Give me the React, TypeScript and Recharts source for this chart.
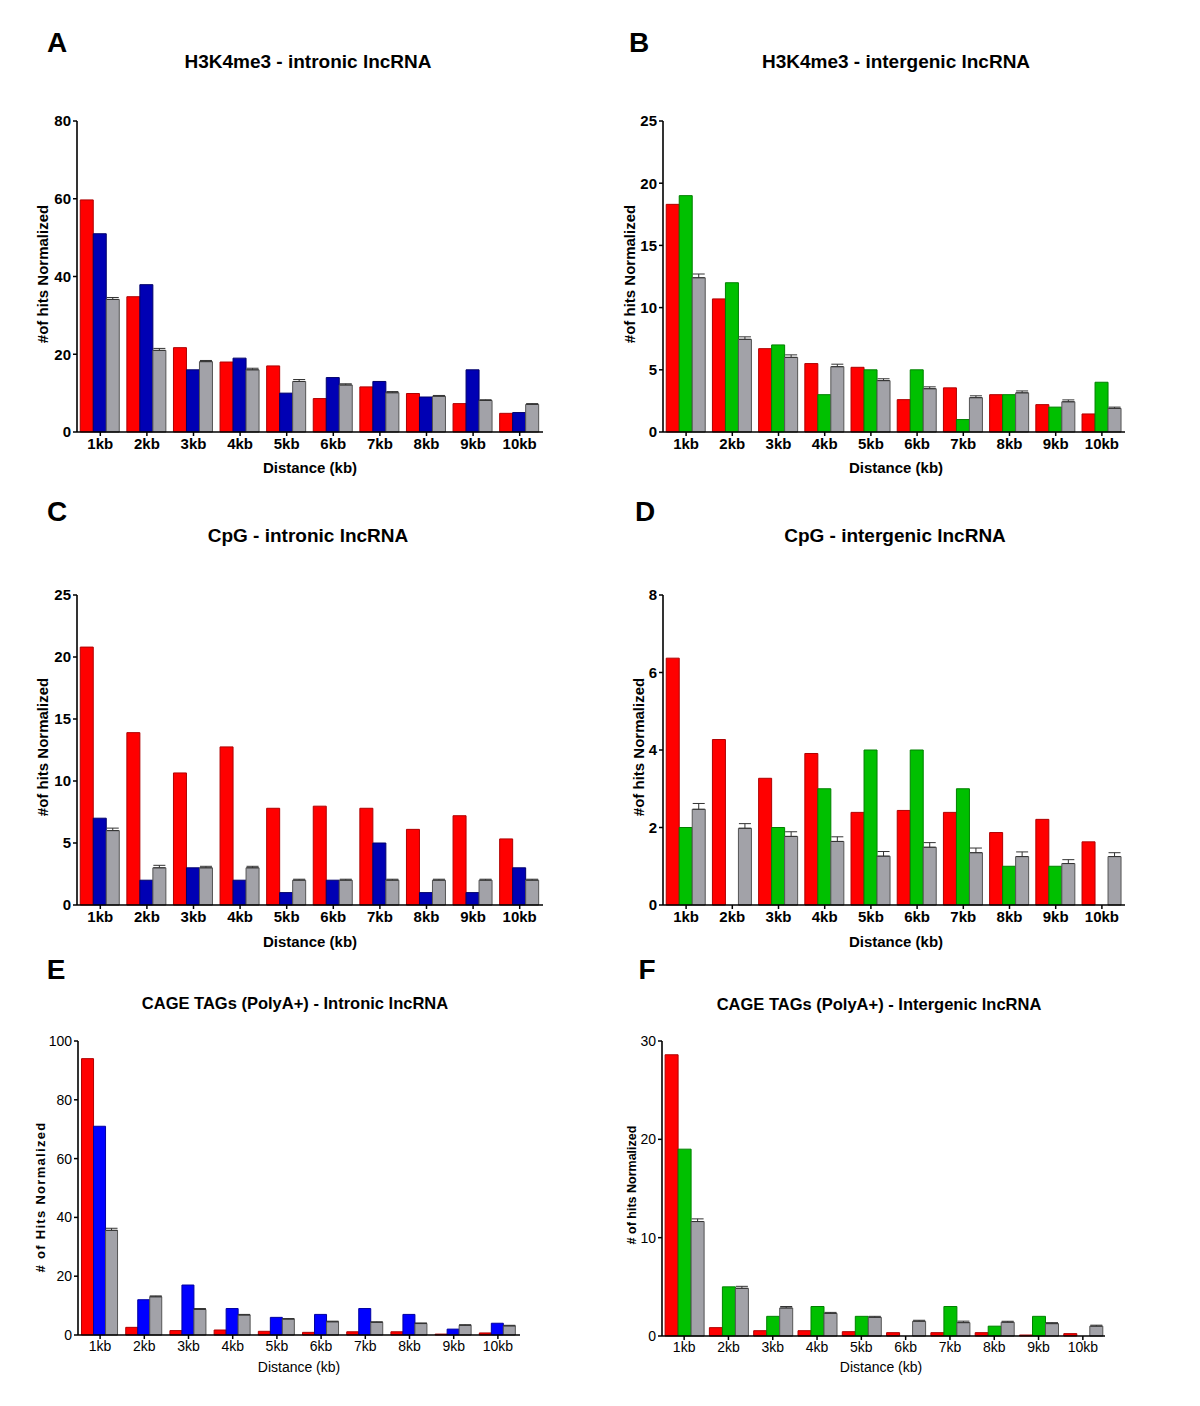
import React from 'react';
import { BarChart, Bar, XAxis, YAxis, ErrorBar } from 'recharts';

const FONT = '"Liberation Sans", Arial, Helvetica, sans-serif';

const CATEGORIES = ['1kb', '2kb', '3kb', '4kb', '5kb', '6kb', '7kb', '8kb', '9kb', '10kb'];

// A: H3K4me3 - intronic lncRNA
const redA = [59.7, 34.8, 21.7, 18.0, 17.0, 8.6, 11.6, 9.9, 7.3, 4.8];
const blueA = [51.0, 37.9, 16.0, 19.0, 10.0, 14.0, 13.0, 9.0, 16.0, 5.0];
const grayA = [34.1, 21.0, 18.1, 16.0, 13.0, 12.1, 10.1, 9.2, 8.1, 7.1];
const errA = [0.5, 0.5, 0.3, 0.4, 0.5, 0.3, 0.3, 0.2, 0.2, 0.2];
const ticksA = [0, 20, 40, 60, 80];

// B: H3K4me3 - intergenic lncRNA
const redB = [18.3, 10.7, 6.7, 5.5, 5.2, 2.6, 3.55, 3.0, 2.2, 1.45];
const greenB = [19.0, 12.0, 7.0, 3.0, 5.0, 5.0, 1.0, 3.0, 2.0, 4.0];
const grayB = [12.4, 7.45, 6.0, 5.25, 4.13, 3.48, 2.76, 3.15, 2.43, 1.9];
const errB = [0.3, 0.2, 0.2, 0.2, 0.15, 0.15, 0.15, 0.15, 0.15, 0.1];
const ticksB = [0, 5, 10, 15, 20, 25];

// C: CpG - intronic lncRNA
const redC = [20.8, 13.9, 10.65, 12.75, 7.8, 7.97, 7.8, 6.1, 7.2, 5.33];
const blueC = [7.0, 2.0, 3.0, 2.0, 1.0, 2.0, 5.0, 1.0, 1.0, 3.0];
const grayC = [6.0, 3.0, 3.0, 3.0, 2.0, 2.0, 2.0, 2.0, 2.0, 2.0];
const errC = [0.2, 0.2, 0.12, 0.12, 0.08, 0.08, 0.08, 0.08, 0.08, 0.08];
const ticksC = [0, 5, 10, 15, 20, 25];

// D: CpG - intergenic lncRNA
const redD = [6.37, 4.27, 3.27, 3.91, 2.39, 2.44, 2.39, 1.87, 2.21, 1.63];
const greenD = [2.0, 0, 2.0, 3.0, 4.0, 4.0, 3.0, 1.0, 1.0, 0];
const grayD = [2.47, 1.98, 1.77, 1.64, 1.26, 1.49, 1.35, 1.25, 1.07, 1.25];
const errD = [0.15, 0.12, 0.12, 0.12, 0.12, 0.12, 0.12, 0.12, 0.1, 0.1];
const ticksD = [0, 2, 4, 6, 8];

// E: CAGE TAGs (PolyA+) - Intronic lncRNA
const redE = [94.0, 2.6, 1.5, 1.7, 1.25, 0.9, 1.1, 1.1, 0.3, 0.7];
const blueE = [71.0, 12.0, 17.0, 9.0, 6.0, 7.0, 9.0, 7.0, 2.0, 4.0];
const grayE = [35.6, 13.0, 8.7, 6.8, 5.4, 4.5, 4.3, 3.9, 3.3, 3.1];
const errE = [0.7, 0.3, 0.3, 0.2, 0.2, 0.2, 0.2, 0.2, 0.2, 0.2];
const ticksE = [0, 20, 40, 60, 80, 100];

// F: CAGE TAGs (PolyA+) - Intergenic lncRNA
const redF = [28.6, 0.85, 0.54, 0.54, 0.44, 0.34, 0.34, 0.34, 0.1, 0.24];
const greenF = [19.0, 5.0, 2.0, 3.0, 2.0, 0, 3.0, 1.0, 2.0, 0];
const grayF = [11.64, 4.85, 2.85, 2.3, 1.9, 1.5, 1.36, 1.4, 1.26, 1.0];
const errF = [0.27, 0.2, 0.15, 0.1, 0.1, 0.1, 0.15, 0.1, 0.1, 0.1];
const ticksF = [0, 10, 20, 30];

const RED = { fill: '#FF0000', stroke: '#B00000' };
const NAVY = { fill: '#0000B4', stroke: '#00006A' };
const BLUE = { fill: '#0000FF', stroke: '#0000A0' };
const GREEN = { fill: '#00C000', stroke: '#008000' };
const GRAY = { fill: '#A2A2A8', stroke: '#555555' };

type PanelProps = {
  letter: string;
  letterPos: [number, number];
  title: string;
  titlePos: [number, number];
  titleSize: number;
  plot: [number, number, number, number];
  s1: number[];
  s2: number[];
  s3: number[];
  err: number[];
  c1: { fill: string; stroke: string };
  c2: { fill: string; stroke: string };
  c3: { fill: string; stroke: string };
  yMax: number;
  yTicks: number[];
  yLabel: string;
  yLabelPos: [number, number];
  yLabelStyle: any;
  xLabelPos: [number, number];
  xLabelStyle: any;
  tickStyle: any;
  gap: string;
};

function Panel(p: PanelProps) {
  const left = p.plot[0] - 70;
  const top = p.plot[1] - 15;
  const width = p.plot[2] - p.plot[0] + 85;
  const height = p.plot[3] - p.plot[1] + 70;
  const data = CATEGORIES.map((c, i) => ({
    cat: c,
    a: p.s1[i],
    b: p.s2[i],
    g: p.s3[i],
    err: [0, p.err[i]],
  }));
  const yl = [p.yLabelPos[0] - left, p.yLabelPos[1] - top];
  const xl = [p.xLabelPos[0] - left, p.xLabelPos[1] - top];
  const yLabelFn = () => (
    <text
      x={yl[0]}
      y={yl[1]}
      transform={`rotate(-90 ${yl[0]} ${yl[1]})`}
      textAnchor="middle"
      dominantBaseline="central"
      fill="#000"
      fontFamily={FONT}
      {...p.yLabelStyle}
    >
      {p.yLabel}
    </text>
  );
  const xLabelFn = () => (
    <text
      x={xl[0]}
      y={xl[1]}
      textAnchor="middle"
      dominantBaseline="central"
      fill="#000"
      fontFamily={FONT}
      {...p.xLabelStyle}
    >
      Distance (kb)
    </text>
  );
  const tick = { fill: '#000', fontFamily: FONT, ...p.tickStyle };
  return (
    <>
      <div
        style={{
          position: 'absolute',
          left: p.letterPos[0],
          top: p.letterPos[1],
          transform: 'translate(-50%, -50%)',
          fontFamily: FONT,
          fontWeight: 'bold',
          fontSize: 28,
          lineHeight: 1,
          color: '#000',
        }}
      >
        {p.letter}
      </div>
      <div
        style={{
          position: 'absolute',
          left: p.titlePos[0],
          top: p.titlePos[1],
          transform: 'translate(-50%, -50%)',
          fontFamily: FONT,
          fontWeight: 'bold',
          fontSize: p.titleSize,
          lineHeight: 1,
          whiteSpace: 'nowrap',
          color: '#000',
        }}
      >
        {p.title}
      </div>
      <div style={{ position: 'absolute', left, top }}>
        <BarChart
          width={width}
          height={height}
          data={data}
          margin={{ top: 15, right: 15, bottom: 25, left: 30 }}
          barGap={0}
          barCategoryGap={p.gap}
        >
          <XAxis
            dataKey="cat"
            height={30}
            interval={0}
            tickSize={4}
            tick={tick}
            axisLine={{ stroke: '#000', strokeWidth: 1.6 }}
            tickLine={{ stroke: '#000', strokeWidth: 1.5 }}
            label={xLabelFn}
          />
          <YAxis
            width={40}
            type="number"
            domain={[0, p.yMax]}
            ticks={p.yTicks}
            interval={0}
            tickSize={4}
            tick={tick}
            axisLine={{ stroke: '#000', strokeWidth: 1.6 }}
            tickLine={{ stroke: '#000', strokeWidth: 1.5 }}
            label={yLabelFn}
          />
          <Bar dataKey="a" fill={p.c1.fill} stroke={p.c1.stroke} strokeWidth={1} isAnimationActive={false} />
          <Bar dataKey="b" fill={p.c2.fill} stroke={p.c2.stroke} strokeWidth={1} isAnimationActive={false} />
          <Bar dataKey="g" fill={p.c3.fill} stroke={p.c3.stroke} strokeWidth={1} isAnimationActive={false}>
            <ErrorBar dataKey="err" direction="y" width={6} stroke="#333" strokeWidth={1} />
          </Bar>
        </BarChart>
      </div>
    </>
  );
}

const bigTick = { fontSize: 15, fontWeight: 'bold' };
const bigLabel = { fontSize: 15, fontWeight: 'bold' };
const smallTick = { fontSize: 14, fontWeight: 'normal' };
const smallXLabel = { fontSize: 14, fontWeight: 'normal' };

export default function App() {
  return (
    <div
      style={{
        position: 'absolute',
        left: 0,
        top: 0,
        width: 1200,
        height: 1406,
        background: '#fff',
        overflow: 'hidden',
      }}
    >
      <Panel
        letter="A"
        letterPos={[57, 43]}
        title="H3K4me3 - intronic lncRNA"
        titlePos={[308, 61]}
        titleSize={19}
        plot={[77, 121, 543, 432]}
        s1={redA}
        s2={blueA}
        s3={grayA}
        err={errA}
        c1={RED}
        c2={NAVY}
        c3={GRAY}
        yMax={80}
        yTicks={ticksA}
        yLabel="#of hits Normalized"
        yLabelPos={[42, 274]}
        yLabelStyle={bigLabel}
        xLabelPos={[310, 467]}
        xLabelStyle={bigLabel}
        tickStyle={bigTick}
        gap="7%"
      />
      <Panel
        letter="B"
        letterPos={[639, 43]}
        title="H3K4me3 - intergenic lncRNA"
        titlePos={[896, 61]}
        titleSize={19}
        plot={[663, 121, 1125, 432]}
        s1={redB}
        s2={greenB}
        s3={grayB}
        err={errB}
        c1={RED}
        c2={GREEN}
        c3={GRAY}
        yMax={25}
        yTicks={ticksB}
        yLabel="#of hits Normalized"
        yLabelPos={[629, 274]}
        yLabelStyle={bigLabel}
        xLabelPos={[896, 467]}
        xLabelStyle={bigLabel}
        tickStyle={bigTick}
        gap="7%"
      />
      <Panel
        letter="C"
        letterPos={[57, 512]}
        title="CpG - intronic lncRNA"
        titlePos={[308, 535]}
        titleSize={19}
        plot={[77, 595, 543, 905]}
        s1={redC}
        s2={blueC}
        s3={grayC}
        err={errC}
        c1={RED}
        c2={NAVY}
        c3={GRAY}
        yMax={25}
        yTicks={ticksC}
        yLabel="#of hits Normalized"
        yLabelPos={[42, 747]}
        yLabelStyle={bigLabel}
        xLabelPos={[310, 941]}
        xLabelStyle={bigLabel}
        tickStyle={bigTick}
        gap="7%"
      />
      <Panel
        letter="D"
        letterPos={[645, 512]}
        title="CpG - intergenic lncRNA"
        titlePos={[895, 535]}
        titleSize={19}
        plot={[663, 595, 1125, 905]}
        s1={redD}
        s2={greenD}
        s3={grayD}
        err={errD}
        c1={RED}
        c2={GREEN}
        c3={GRAY}
        yMax={8}
        yTicks={ticksD}
        yLabel="#of hits Normalized"
        yLabelPos={[638, 747]}
        yLabelStyle={bigLabel}
        xLabelPos={[896, 941]}
        xLabelStyle={bigLabel}
        tickStyle={bigTick}
        gap="7%"
      />
      <Panel
        letter="E"
        letterPos={[56, 970]}
        title="CAGE TAGs (PolyA+) - Intronic lncRNA"
        titlePos={[295, 1003]}
        titleSize={16.5}
        plot={[78, 1041, 520, 1335]}
        s1={redE}
        s2={blueE}
        s3={grayE}
        err={errE}
        c1={RED}
        c2={BLUE}
        c3={GRAY}
        yMax={100}
        yTicks={ticksE}
        yLabel="# of Hits Normalized"
        yLabelPos={[40, 1197]}
        yLabelStyle={{ fontSize: 13, fontWeight: 'bold', letterSpacing: 1.3 }}
        xLabelPos={[299, 1367]}
        xLabelStyle={smallXLabel}
        tickStyle={smallTick}
        gap="8%"
      />
      <Panel
        letter="F"
        letterPos={[647, 970]}
        title="CAGE TAGs (PolyA+) - Intergenic lncRNA"
        titlePos={[879, 1004]}
        titleSize={16.5}
        plot={[662, 1041, 1105, 1336]}
        s1={redF}
        s2={greenF}
        s3={grayF}
        err={errF}
        c1={RED}
        c2={GREEN}
        c3={GRAY}
        yMax={30}
        yTicks={ticksF}
        yLabel="# of hits Normalized"
        yLabelPos={[632, 1185]}
        yLabelStyle={{ fontSize: 12.5, fontWeight: 'bold' }}
        xLabelPos={[881, 1367]}
        xLabelStyle={smallXLabel}
        tickStyle={smallTick}
        gap="7%"
      />
    </div>
  );
}
